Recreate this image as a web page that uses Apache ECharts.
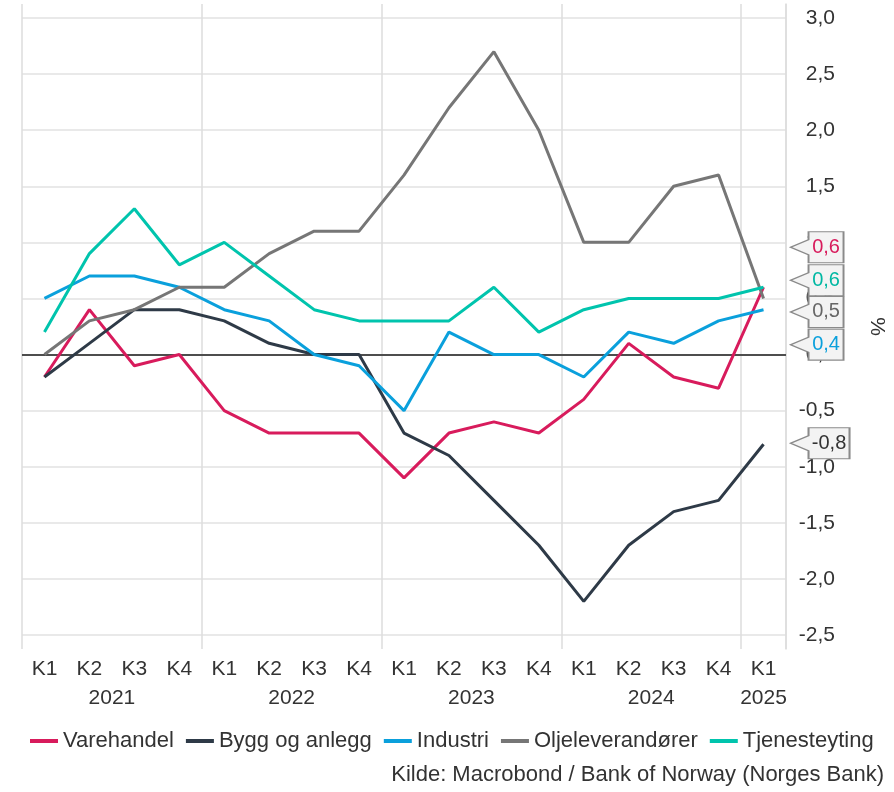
<!DOCTYPE html>
<html>
<head>
<meta charset="utf-8">
<script src="https://cdn.jsdelivr.net/npm/echarts@6/dist/echarts.min.js"></script>
<style>
html,body{margin:0;padding:0;background:#fff;}
#chart{width:894px;height:792px;}
</style>
</head>
<body>
<div id="chart"></div>
<script>
const quarters = ['K1','K2','K3','K4','K1','K2','K3','K4','K1','K2','K3','K4','K1','K2','K3','K4','K1'];
const years = ['','2021','','','','2022','','','','2023','','','','2024','','','2025'];
const yTicks = [-2.5,-2.0,-1.5,-1.0,-0.5,0,0.5,1.0,1.5,2.0,2.5,3.0];

const seriesNames = ['Varehandel','Bygg og anlegg','Industri','Oljeleverandører','Tjenesteyting'];
const varehandel = [-0.2,0.4,-0.1,0.0,-0.5,-0.7,-0.7,-0.7,-1.1,-0.7,-0.6,-0.7,-0.4,0.1,-0.2,-0.3,0.6];
const bygg       = [-0.2,0.1,0.4,0.4,0.3,0.1,0.0,0.0,-0.7,-0.9,-1.3,-1.7,-2.2,-1.7,-1.4,-1.3,-0.8];
const industri   = [0.5,0.7,0.7,0.6,0.4,0.3,0.0,-0.1,-0.5,0.2,0.0,0.0,-0.2,0.2,0.1,0.3,0.4];
const olje       = [0.0,0.3,0.4,0.6,0.6,0.9,1.1,1.1,1.6,2.2,2.7,2.0,1.0,1.0,1.5,1.6,0.5];
const tjeneste   = [0.2,0.9,1.3,0.8,1.0,0.7,0.4,0.3,0.3,0.3,0.6,0.2,0.4,0.5,0.5,0.5,0.6];
const sourceText = 'Kilde: Macrobond / Bank of Norway (Norges Bank)';

const FONT = '"Liberation Sans", Arial, sans-serif';
const colors = ['#d81b5c','#2e3a47','#0aa0dc','#767676','#00c4ad'];
const labelColors = ['#d81b5c','#333333','#0aa0dc','#666666','#00b8a3'];
const allData = [varehandel, bygg, industri, olje, tjeneste];
// callout box offsets (style only)
const boxOffsets = [[53.5,-40],[56.5,-1],[53.5,35],[53.5,13.5],[53.5,-7]];
const pathNarrow = 'path://M0,15.5 L18,8 L18,0 L53,0 L53,31 L18,31 L18,23 Z';
const pathWide = 'path://M0,15.5 L18,8 L18,0 L59,0 L59,31 L18,31 L18,23 Z';

function fmt(v){ return v.toFixed(1).replace('.', ','); }

const chart = echarts.init(document.getElementById('chart'), null, {renderer:'canvas'});

const series = allData.map((d, i) => {
  const last = d.length - 1;
  const txt = fmt(d[last]);
  const wide = txt.length > 3;
  const s = {
    name: seriesNames[i],
    type: 'line',
    data: d,
    symbol: 'none',
    smooth: false,
    clip: false,
    lineStyle: {width: 3, color: colors[i]},
    itemStyle: {color: colors[i]},
    emphasis: {disabled: true},
    z: 3,
    markPoint: {
      silent: true,
      z: 10,
      data: [{
        coord: [last, d[last]],
        symbol: wide ? pathWide : pathNarrow,
        symbolSize: wide ? [59,31] : [53,31],
        symbolOffset: boxOffsets[i],
        itemStyle: {color: '#f3f3f3', borderColor: '#8a8a8a', borderWidth: 1.5},
        label: {
          show: true,
          position: 'inside',
          offset: [9, 0],
          formatter: txt,
          color: labelColors[i],
          fontSize: 20,
          fontFamily: FONT
        }
      }]
    }
  };
  if (i === 0) {
    s.markLine = {
      silent: true,
      symbol: ['none','none'],
      label: {show: false},
      lineStyle: {color: '#4d4d4d', width: 2, type: 'solid'},
      data: [{yAxis: 0}],
      z: 2
    };
  }
  return s;
});

const option = {
  backgroundColor: '#ffffff',
  animation: false,
  textStyle: {fontFamily: FONT},
  title: {
    text: sourceText,
    right: 10,
    top: 764,
    padding: 0,
    textStyle: {fontSize: 22, fontWeight: 'normal', color: '#333333', fontFamily: FONT}
  },
  legend: {
    data: seriesNames,
    left: 30,
    top: 730,
    padding: 0,
    icon: 'rect',
    itemWidth: 28,
    itemHeight: 4,
    itemGap: 12,
    textStyle: {fontSize: 22, color: '#333333', fontFamily: FONT}
  },
  grid: {left: 22, right: 108, top: 4, bottom: 143, containLabel: false, outerBoundsMode: 'none'},
  xAxis: [{
    type: 'category',
    data: quarters,
    boundaryGap: true,
    axisLine: {show: true, lineStyle: {color: '#dddddd', width: 1.5}},
    axisTick: {show: false},
    axisLabel: {interval: 0, margin: 10, fontSize: 21, color: '#333333', fontFamily: FONT},
    splitLine: {show: true, interval: (idx) => idx % 4 === 0, lineStyle: {color: '#dddddd', width: 1.5}}
  }, {
    type: 'category',
    data: years,
    position: 'bottom',
    boundaryGap: true,
    axisLine: {show: false},
    axisTick: {show: false},
    splitLine: {show: false},
    axisLabel: {
      interval: 0, margin: 39, fontSize: 21, color: '#333333', fontFamily: FONT,
      formatter: (v, idx) => v === '' ? '' : (idx < years.length - 1 ? '{s|' + v + '}' : '{n|' + v + '}'),
      rich: {
        s: {fontSize: 21, color: '#333333', fontFamily: FONT, padding: [0,0,0,45]},
        n: {fontSize: 21, color: '#333333', fontFamily: FONT}
      }
    }
  }],
  yAxis: {
    type: 'value',
    position: 'right',
    min: -2.625,
    max: 3.125,
    name: '%',
    nameLocation: 'middle',
    nameGap: 80,
    nameRotate: -90,
    nameTextStyle: {fontSize: 21, color: '#333333', fontFamily: FONT},
    axisLine: {show: true, lineStyle: {color: '#dddddd', width: 1.5}},
    axisTick: {show: false, customValues: yTicks},
    axisLabel: {
      customValues: yTicks,
      margin: 49,
      align: 'right',
      fontSize: 21,
      color: '#333333',
      fontFamily: FONT,
      formatter: (v) => fmt(v)
    },
    splitLine: {show: true, lineStyle: {color: '#e2e2e2', width: 1.5}}
  },
  series: series
};
chart.setOption(option);
</script>
</body>
</html>
